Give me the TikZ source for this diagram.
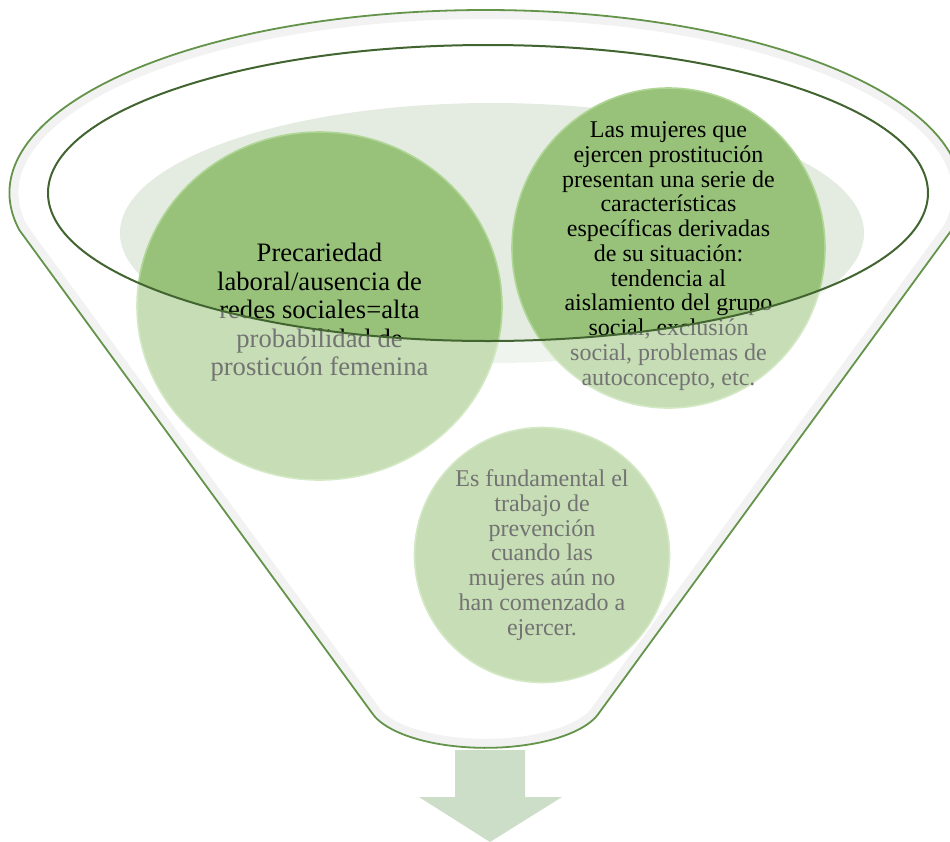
\documentclass[tikz,border=0pt]{standalone}
\usepackage{fontspec}
\setmainfont{Liberation Serif}
\usetikzlibrary{shapes.geometric}
\definecolor{bubblegreen}{RGB}{152,194,122}
\definecolor{bubbleedge}{RGB}{176,214,150}
\definecolor{liquid}{RGB}{228,236,226}
\definecolor{rimline}{RGB}{66,100,48}
\definecolor{coneline}{RGB}{100,148,74}
\definecolor{exitgreen}{RGB}{205,222,200}
\tikzset{
  bubble/.style={ellipse, draw=bubbleedge, line width=0.8pt, fill=bubblegreen},
  bigtext/.style={align=center, font=\fontsize{13.3}{14.25}\selectfont},
  smalltext/.style={align=center, font=\fontsize{12}{12.4}\selectfont},
  glass/.style={fill=white, fill opacity=0.45, even odd rule},
  rim/.style={draw=rimline, line width=1pt},
  cone/.style={draw=coneline, line width=0.9pt, line join=round}
}
\def\funnel{(19.4,230.1) arc[start angle=168.3, end angle=371.7, x radius=476, y radius=183]
    -- (599,713) arc[start angle=15, end angle=165, x radius=117.5, y radius=47] -- cycle}

\begin{document}
\begin{tikzpicture}[x=0.5pt,y=-0.5pt]
  \clip (0,0) rectangle (950,842);

  % liquid surface
  \fill[liquid] (492,233) ellipse [x radius=372, y radius=130];

  \node[bubble, minimum width=182.5pt, minimum height=174pt] (labor) at (319.5,306) {};
  \node[bigtext] (labor-txt) at ([yshift=-3.2pt]labor.center)
    {Precariedad\\laboral/ausencia de\\redes sociales=alta\\probabilidad de\\prosticuón femenina};
  \node[bubble, minimum width=156.5pt, minimum height=160pt] (rasgos) at (668.5,248) {};
  \node[smalltext] (rasgos-txt) at ([yshift=-4pt]rasgos.center)
    {Las mujeres que\\ejercen prostitución\\presentan una serie de\\características\\específicas derivadas\\de su situación:\\tendencia al\\aislamiento del grupo\\social, exclusión\\social, problemas de\\autoconcepto, etc.};
  \node[bubble, minimum size=127.5pt] (prevencion) at (542,555) {};
  \node[smalltext] (prevencion-txt) at (prevencion.center)
    {Es fundamental el\\trabajo de\\prevención\\cuando las\\mujeres aún no\\han comenzado a\\ejercer.};

  % glass front of the funnel
  \path[glass] \funnel (488,193) ellipse [x radius=440, y radius=148];
  \begin{scope}
    \clip \funnel;
    \draw[black!5, line width=9pt] \funnel;
  \end{scope}
  \path[cone] \funnel;
  \path[rim] (488,193) ellipse [x radius=440, y radius=148];

  % exit arrow
  \fill[exitgreen] (455,750) -- (525,750) -- (525,797) -- (562,797) -- (490,842)
    -- (419,797) -- (455,797) -- cycle;
\end{tikzpicture}
\end{document}
